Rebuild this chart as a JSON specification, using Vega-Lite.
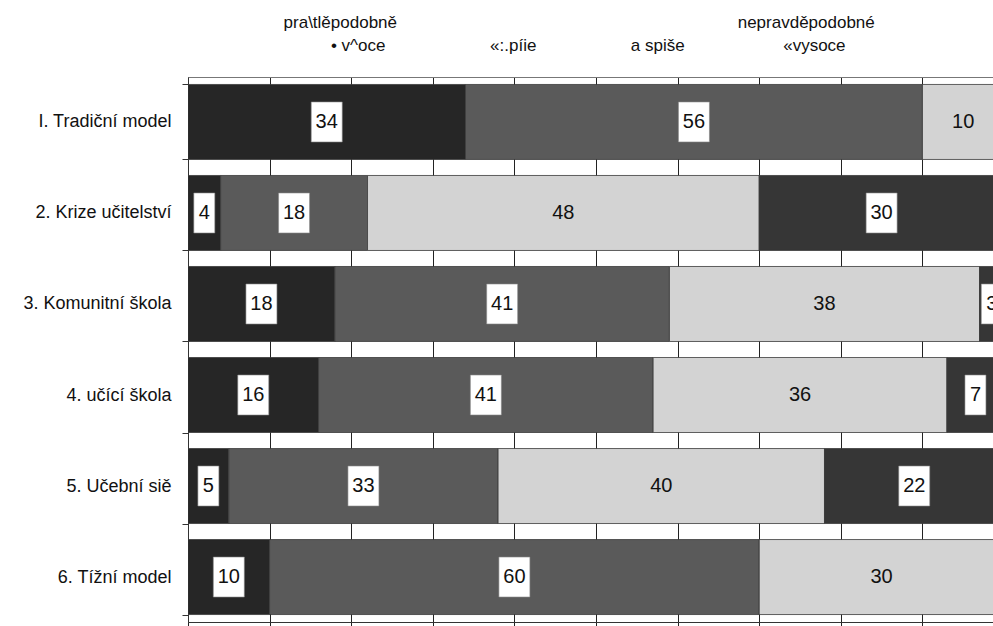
{
  "$schema": "https://vega.github.io/schema/vega-lite/v6.json",
  "autosize": "none",
  "width": 805,
  "height": 545,
  "padding": {"left": 188, "top": 77, "right": 0, "bottom": 4},
  "background": "white",
  "config": {"view": {"stroke": null}, "font": "Liberation Sans"},
  "data": {
    "values": [
      {"model": "I. Tradiční model", "cat": 1, "value": 34},
      {"model": "I. Tradiční model", "cat": 2, "value": 56},
      {"model": "I. Tradiční model", "cat": 3, "value": 10},
      {"model": "2. Krize učitelství", "cat": 1, "value": 4},
      {"model": "2. Krize učitelství", "cat": 2, "value": 18},
      {"model": "2. Krize učitelství", "cat": 3, "value": 48},
      {"model": "2. Krize učitelství", "cat": 4, "value": 30},
      {"model": "3. Komunitní škola", "cat": 1, "value": 18},
      {"model": "3. Komunitní škola", "cat": 2, "value": 41},
      {"model": "3. Komunitní škola", "cat": 3, "value": 38},
      {"model": "3. Komunitní škola", "cat": 4, "value": 3},
      {"model": "4. učící škola", "cat": 1, "value": 16},
      {"model": "4. učící škola", "cat": 2, "value": 41},
      {"model": "4. učící škola", "cat": 3, "value": 36},
      {"model": "4. učící škola", "cat": 4, "value": 7},
      {"model": "5. Učební siě", "cat": 1, "value": 5},
      {"model": "5. Učební siě", "cat": 2, "value": 33},
      {"model": "5. Učební siě", "cat": 3, "value": 40},
      {"model": "5. Učební siě", "cat": 4, "value": 22},
      {"model": "6. Tížní model", "cat": 1, "value": 10},
      {"model": "6. Tížní model", "cat": 2, "value": 60},
      {"model": "6. Tížní model", "cat": 3, "value": 30}
    ]
  },
  "transform": [
    {"stack": "value", "groupby": ["model"], "sort": [{"field": "cat", "order": "ascending"}], "as": ["x0", "x1"]},
    {"calculate": "(datum.x0 + datum.x1) / 2", "as": "mid"}
  ],
  "encoding": {
    "y": {
      "field": "model",
      "type": "nominal",
      "sort": ["I. Tradiční model", "2. Krize učitelství", "3. Komunitní škola", "4. učící škola", "5. Učební siě", "6. Tížní model"],
      "scale": {"paddingInner": 0.176, "paddingOuter": 0.082},
      "axis": {
        "title": null,
        "orient": "left",
        "domain": true,
        "domainColor": "#333",
        "ticks": true,
        "tickBand": "extent",
        "tickSize": 6,
        "tickColor": "#333",
        "labelFontSize": 18,
        "labelColor": "#111",
        "labelPadding": 11,
        "labelFont": "Liberation Sans"
      }
    }
  },
  "layer": [
    {
      "mark": {"type": "bar", "clip": true, "stroke": "#3a3a3a", "strokeWidth": 0.8},
      "encoding": {
        "x": {
          "field": "x0",
          "type": "quantitative",
          "scale": {"domain": [0, 98.65], "nice": false, "zero": false},
          "axis": {
            "orient": "top",
            "title": null,
            "values": [20.8, 39.8, 57.5, 76.7],
            "labelExpr": "datum.value < 30 ? '• v^oce' : datum.value < 50 ? '«:.píie' : datum.value < 70 ? 'a spiše' : '«vysoce'",
            "ticks": false,
            "grid": false,
            "domain": true,
            "domainColor": "#777",
            "labelFontSize": 17,
            "labelColor": "#111",
            "labelPadding": 27,
            "labelBaseline": "alphabetic",
            "labelAlign": "center",
            "labelFlush": false,
            "labelOverlap": false
          }
        },
        "x2": {"field": "x1"},
        "color": {
          "field": "cat",
          "type": "nominal",
          "scale": {"domain": [1, 2, 3, 4], "range": ["#262626", "#5a5a5a", "#d3d3d3", "#363636"]},
          "legend": null
        }
      }
    },
    {
      "transform": [{"filter": "datum.cat != 3"}],
      "mark": {"type": "point", "filled": true, "clip": true, "opacity": 1, "stroke": "#888", "strokeWidth": 0.6},
      "encoding": {
        "x": {
          "field": "mid",
          "type": "quantitative",
          "axis": {
            "orient": "top",
            "title": null,
            "values": [18.6, 75.7],
            "labelExpr": "datum.value < 50 ? 'pra\\\\tlěpodobně' : 'nepravděpodobné'",
            "ticks": false,
            "grid": false,
            "domain": false,
            "labelFontSize": 17,
            "labelColor": "#111",
            "labelPadding": 50,
            "labelBaseline": "alphabetic",
            "labelAlign": "center",
            "labelFlush": false,
            "labelOverlap": false
          }
        },
        "shape": {
          "condition": {"test": "datum.value < 10", "value": "M-0.525,-1H0.525V1H-0.525Z"},
          "value": "M-0.775,-1H0.775V1H-0.775Z"
        },
        "size": {"value": 1600},
        "color": {"value": "white"}
      }
    },
    {
      "mark": {"type": "text", "clip": true, "fontSize": 20, "color": "#111", "font": "Liberation Sans"},
      "encoding": {
        "x": {
          "field": "mid",
          "type": "quantitative",
          "axis": {
            "orient": "bottom",
            "title": null,
            "values": [0, 10, 20, 30, 40, 50, 60, 70, 80, 90],
            "labels": false,
            "grid": true,
            "gridColor": "#222",
            "gridWidth": 1,
            "gridOpacity": 1,
            "ticks": true,
            "tickSize": 8,
            "tickColor": "#222",
            "domain": true,
            "domainColor": "#333"
          }
        },
        "text": {"field": "value", "type": "quantitative"}
      }
    }
  ],
  "resolve": {"axis": {"x": "independent"}}
}
